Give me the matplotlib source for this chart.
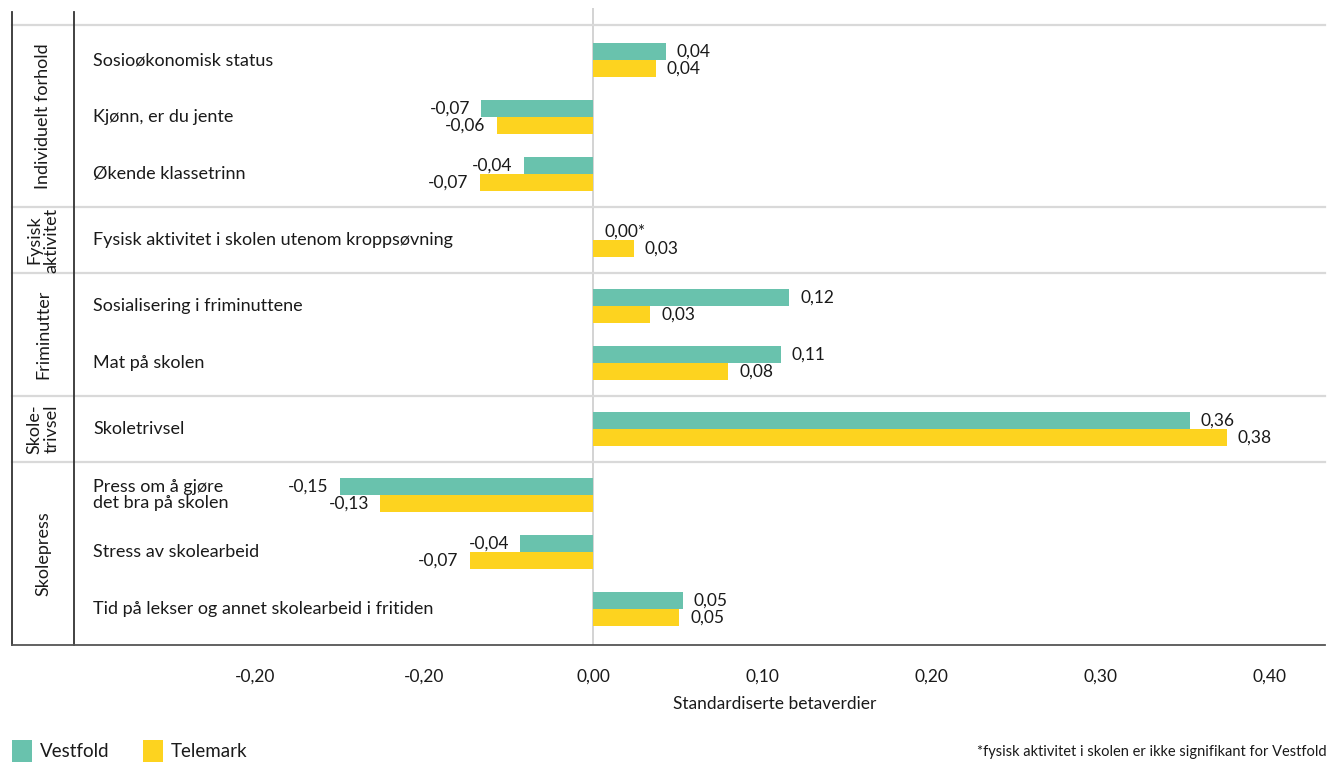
import matplotlib.pyplot as plt
import matplotlib.transforms as mtransforms

plt.rcParams['font.family'] = ['Lato', 'DejaVu Sans']

groups = ['Individuelt forhold', 'Fysisk\naktivitet', 'Friminutter', 'Skole-\ntrivsel', 'Skolepress']
group_sizes = [3, 1, 2, 1, 3]
categories = ['Sosioøkonomisk status', 'Kjønn, er du jente', 'Økende klassetrinn',
              'Fysisk aktivitet i skolen utenom kroppsøvning',
              'Sosialisering i friminuttene', 'Mat på skolen',
              'Skoletrivsel',
              'Press om å gjøre\ndet bra på skolen', 'Stress av skolearbeid',
              'Tid på lekser og annet skolearbeid i fritiden']
vestfold = [0.043, -0.066, -0.041, 0.0, 0.116, 0.111, 0.353, -0.150, -0.043, 0.053]
telemark = [0.037, -0.057, -0.067, 0.024, 0.034, 0.080, 0.375, -0.126, -0.073, 0.051]
vestfold_labels = ['0,04', '-0,07', '-0,04', '0,00*', '0,12', '0,11', '0,36', '-0,15', '-0,04', '0,05']
telemark_labels = ['0,04', '-0,06', '-0,07', '0,03', '0,03', '0,08', '0,38', '-0,13', '-0,07', '0,05']
xticks = [-0.2, -0.1, 0.0, 0.1, 0.2, 0.3, 0.4]
xtick_labels = ['-0,20', '-0,20', '0,00', '0,10', '0,20', '0,30', '0,40']

green = '#69c2ad'
yellow = '#fdd31f'
txt = '#1a1a1a'

# row positions: a bit more room between groups
pos = []
bounds = []
y = 0.0
for gi, n in enumerate(group_sizes):
    if gi > 0:
        y += 0.158
    start = y
    for k in range(n):
        pos.append(y)
        y += 1
    bounds.append((start, y - 1))

fig = plt.figure(figsize=(13.35, 7.64), dpi=100)
ax = fig.add_axes([12 / 1335, 119 / 764, 1313 / 1335, 637 / 764])

h = 0.29
off = 0.152
vb = ax.barh([p - off for p in pos], vestfold, height=h, color=green, label='Vestfold')
tb = ax.barh([p + off for p in pos], telemark, height=h, color=yellow, label='Telemark')

for bars, labs in ((vb, vestfold_labels), (tb, telemark_labels)):
    for b, lab in zip(bars, labs):
        w = b.get_width()
        yc = b.get_y() + b.get_height() / 2
        if w < 0:
            ax.annotate(lab, (w, yc), xytext=(-8, 0), textcoords='offset points',
                        ha='right', va='center', fontsize=12.5, color=txt)
        else:
            ax.annotate(lab, (w, yc), xytext=(8, 0), textcoords='offset points',
                        ha='left', va='center', fontsize=12.5, color=txt)

ax.set_xlim((12 - 593) / 1690, (1325 - 593) / 1690)
ax.set_ylim((645 - 60) / 57, -52 / 57)
ax.axvline(0, color='#d0d0d0', lw=1.3, zorder=0)

trans = mtransforms.blended_transform_factory(ax.transAxes, ax.transData)

# group separators
seps = [bounds[0][0] - 0.61]
for i in range(len(bounds) - 1):
    seps.append((bounds[i][1] + bounds[i + 1][0]) / 2)
for s in seps:
    ax.plot([0, 1], [s, s], transform=trans, color='#d9d9d9', lw=1.6, zorder=0, clip_on=False)

# left frame lines
for xf in (0, 62 / 1313):
    ax.plot([xf, xf], [0, (645 - 12) / 637], transform=ax.transAxes, color='#333333',
            lw=1.3, clip_on=False)

for p, c in zip(pos, categories):
    ax.text(81 / 1313, p, c, transform=trans, ha='left', va='center',
            fontsize=13, color=txt, linespacing=0.95)

ends = seps[1:] + [(645 - 60) / 57]
for g, a, b in zip(groups, seps, ends):
    ax.text(31 / 1313, (a + b) / 2, g, transform=trans, rotation=90, ha='center',
            va='center', fontsize=13, color=txt, linespacing=1.05, multialignment='center')

for side in ('left', 'right', 'top'):
    ax.spines[side].set_visible(False)
ax.spines['bottom'].set_color('#555555')
ax.spines['bottom'].set_linewidth(1.3)
ax.set_yticks([])
ax.set_xticks(xticks)
ax.set_xticklabels(xtick_labels)
ax.tick_params(axis='x', length=0, pad=17, labelsize=12.5, labelcolor=txt)

fig.text(775 / 1335, 1 - 704 / 764, 'Standardiserte betaverdier', ha='center', va='center',
         fontsize=12.5, color=txt)

fig.legend(handles=[vb, tb], loc='center left', bbox_to_anchor=(12 / 1335, 1 - 751 / 764),
           ncol=2, frameon=False, fontsize=13.5, handlelength=1.07, handleheight=1.45,
           handletextpad=0.4, columnspacing=1.8, borderpad=0, borderaxespad=0,
           labelcolor=txt)

fig.text(1327 / 1335, 1 - 752 / 764, '*fysisk aktivitet i skolen er ikke signifikant for Vestfold',
         ha='right', va='center', fontsize=10.5, color=txt)

fig.savefig('out.png', dpi=100)
